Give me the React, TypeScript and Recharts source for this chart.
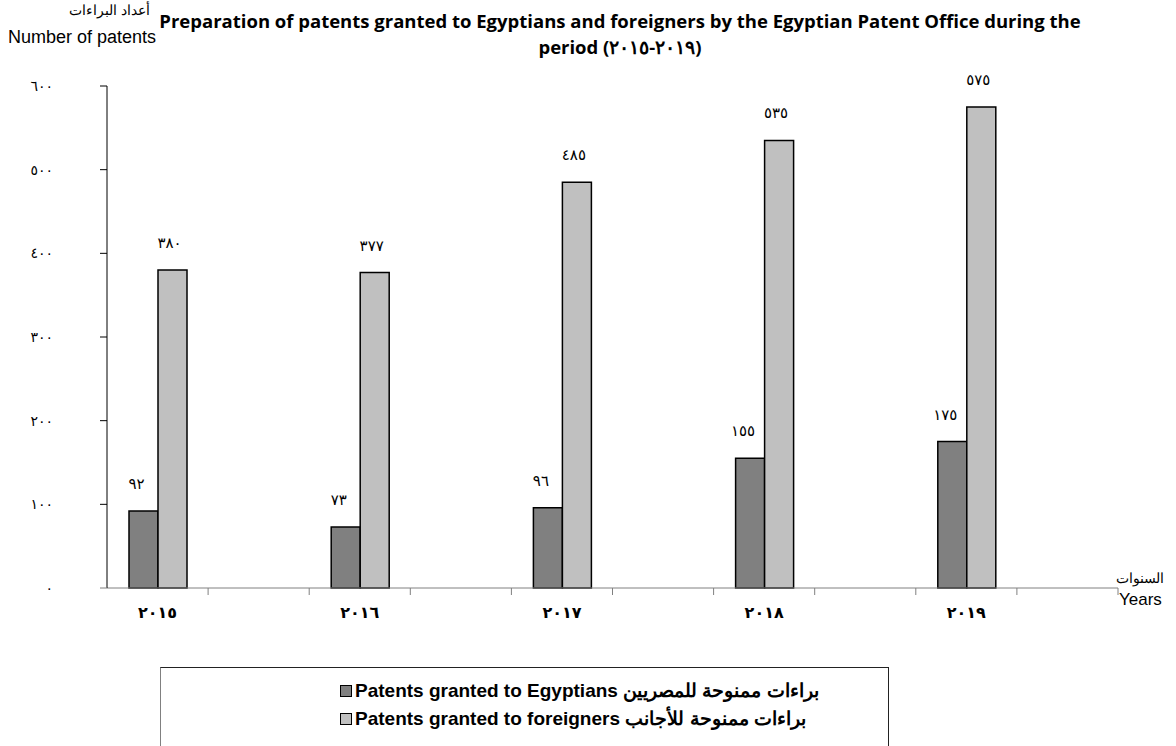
import React from "react";
import { BarChart, Bar, XAxis, YAxis, LabelList } from "recharts";

// 10 category slots: years sit on every other slot, Excel-style spacing
const categories = ["2015", "gap1", "2016", "gap2", "2017", "gap3", "2018", "gap4", "2019", "gap5"];
const yearLabels = ["٢٠١٥", "", "٢٠١٦", "", "٢٠١٧", "", "٢٠١٨", "", "٢٠١٩", ""];
const egyptians = [92, null, 73, null, 96, null, 155, null, 175, null];
const foreigners = [380, null, 377, null, 485, null, 535, null, 575, null];
const yTicks = [0, 100, 200, 300, 400, 500, 600];
const yTickLabels = ["٠", "١٠٠", "٢٠٠", "٣٠٠", "٤٠٠", "٥٠٠", "٦٠٠"];

const data = categories.map((cat, i) => ({
  cat,
  label: yearLabels[i],
  egy: egyptians[i],
  frn: foreigners[i],
}));

const W = 1176;
const H = 746;
const PLOT_LEFT = 107;
const PLOT_RIGHT = 1118;
const PLOT_TOP = 86;
const PLOT_BOTTOM = 588;
const BAND = (PLOT_RIGHT - PLOT_LEFT) / categories.length;

const AR_DIGITS = "٠١٢٣٤٥٦٧٨٩";
const toArabic = (n: number) => String(n).replace(/\d/g, (d) => AR_DIGITS[Number(d)]);

const digitFont = "'DejaVu Sans', sans-serif";
const arial = "'Liberation Sans', Arial, sans-serif";

function XTick(props: any) {
  const { x, y, index } = props;
  const right = x + BAND / 2;
  return (
    <g>
      <line x1={right} x2={right} y1={y} y2={y + 7} stroke="#808080" />
      {yearLabels[index] ? (
        <text x={x} y={y + 30} textAnchor="middle" fontFamily={digitFont} fontWeight="bold" fontSize={16} letterSpacing={4} fill="#000">
          {yearLabels[index]}
        </text>
      ) : null}
    </g>
  );
}

function YTick(props: any) {
  const { x, y, payload } = props;
  const i = yTicks.indexOf(payload.value);
  return (
    <g>
      <line x1={x - 7} x2={x} y1={y} y2={y} stroke={payload.value === 0 ? "#808080" : "#000"} />
      <text x={x - 54} y={y + 5} textAnchor="end" fontFamily={digitFont} fontSize={14} letterSpacing={3} fill="#000">
        {yTickLabels[i]}
      </text>
    </g>
  );
}

const barLabel = (shift: number) => (props: any) => {
  const { x, y, width, value } = props;
  if (value == null) return null;
  return (
    <text x={x + width / 2 - shift} y={y - 22} textAnchor="middle" fontFamily={digitFont} fontSize={15} letterSpacing={4} fill="#000">
      {toArabic(value)}
    </text>
  );
};

export default function App() {
  return (
    <div style={{ position: "relative", width: W, height: H, background: "#fff", fontFamily: arial, overflow: "hidden" }}>
      <style>{"body{margin:0}"}</style>
      <div
        style={{
          position: "absolute",
          left: 70,
          width: 1100,
          top: 8,
          textAlign: "center",
          fontFamily: "'Open Sans', sans-serif",
          fontWeight: 700,
          fontSize: 18.5,
          lineHeight: "26px",
          color: "#000",
        }}
      >
        Preparation of patents granted to Egyptians and foreigners by the Egyptian Patent Office during the
        <br />
        period ({"٢٠١٥\u200E-\u200E٢٠١٩"})
      </div>
      <div style={{ position: "absolute", right: W - 150, top: 2, fontSize: 14, textAlign: "right", whiteSpace: "nowrap" }}>
        أعداد البراءات
      </div>
      <div style={{ position: "absolute", left: 8, top: 27, fontSize: 18, whiteSpace: "nowrap" }}>Number of patents</div>
      <div style={{ position: "absolute", left: 1116, top: 570, fontSize: 14, whiteSpace: "nowrap" }}>السنوات</div>
      <div style={{ position: "absolute", left: 1119, top: 590, fontSize: 17, whiteSpace: "nowrap" }}>Years</div>

      <BarChart
        width={W}
        height={H}
        data={data}
        barGap={0}
        margin={{ top: PLOT_TOP, right: W - PLOT_RIGHT, left: 0, bottom: H - PLOT_BOTTOM - 40 }}
      >
        <XAxis
          dataKey="cat"
          interval={0}
          height={40}
          tickSize={0}
          tickMargin={0}
          tickLine={false}
          axisLine={{ stroke: "#808080" }}
          tick={<XTick />}
        />
        <YAxis
          domain={[0, 600]}
          ticks={yTicks}
          width={PLOT_LEFT}
          tickSize={0}
          tickMargin={0}
          tickLine={false}
          axisLine={{ stroke: "#000" }}
          tick={<YTick />}
        />
        <Bar dataKey="egy" fill="#808080" stroke="#000" strokeWidth={1.5} barSize={29} isAnimationActive={false}>
          <LabelList dataKey="egy" content={barLabel(7)} />
        </Bar>
        <Bar dataKey="frn" fill="#C0C0C0" stroke="#000" strokeWidth={1.5} barSize={29} isAnimationActive={false}>
          <LabelList dataKey="frn" content={barLabel(3)} />
        </Bar>
      </BarChart>

      <div
        style={{
          position: "absolute",
          left: 160,
          top: 667,
          width: 727,
          height: 90,
          border: "1px solid #222",
          borderLeftColor: "#808080",
          fontWeight: 700,
          fontSize: 19,
          color: "#000",
        }}
      >
        {[
          { fill: "#808080", text: "Patents granted to Egyptians براءات ممنوحة للمصريين", top: 11 },
          { fill: "#C0C0C0", text: "Patents granted to foreigners براءات ممنوحة للأجانب", top: 39 },
        ].map((it) => (
          <div key={it.text} style={{ position: "absolute", left: 179, top: it.top, display: "flex", alignItems: "center", whiteSpace: "nowrap" }}>
            <span style={{ display: "inline-block", width: 10, height: 10, background: it.fill, border: "1px solid #000", marginRight: 3 }} />
            <span>{it.text}</span>
          </div>
        ))}
      </div>
    </div>
  );
}
